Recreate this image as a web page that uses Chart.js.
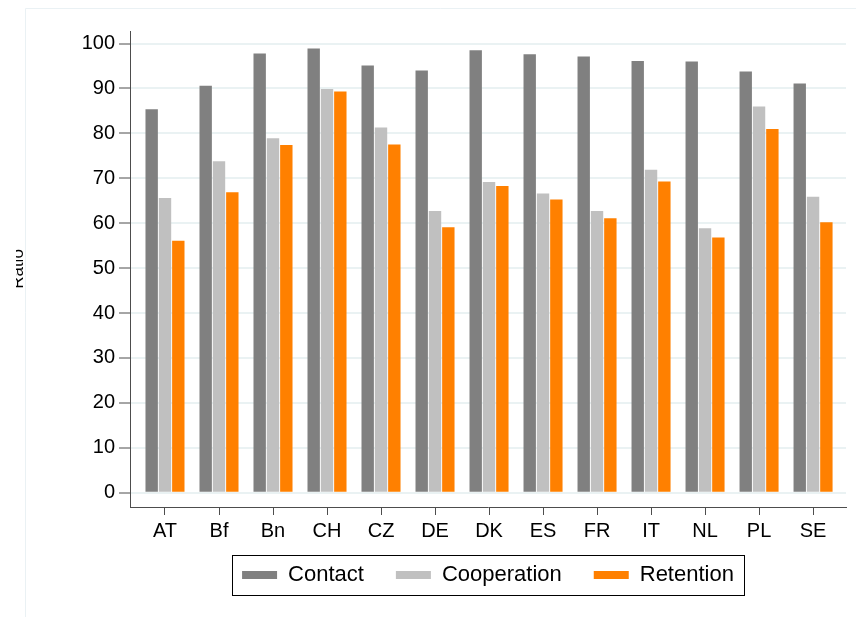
<!DOCTYPE html>
<html>
<head>
<meta charset="utf-8">
<script src="https://cdn.jsdelivr.net/npm/chart.js@4.4.0/dist/chart.umd.min.js"></script>
<style>
  html, body { margin: 0; padding: 0; background: #ffffff; }
  #wrap { width: 856px; height: 617px; position: relative; }
</style>
</head>
<body>
<div id="wrap"><canvas id="chart" width="856" height="617"></canvas></div>
<script>
// Survey rates by country (percent)
const categories = ['AT', 'Bf', 'Bn', 'CH', 'CZ', 'DE', 'DK', 'ES', 'FR', 'IT', 'NL', 'PL', 'SE'];
const contact     = [85.4, 90.6, 97.8, 98.9, 95.1, 94.0, 98.5, 97.6, 97.1, 96.1, 96.0, 93.8, 91.1];
const cooperation = [65.6, 73.8, 78.9, 89.9, 81.3, 62.7, 69.2, 66.6, 62.7, 71.9, 58.9, 86.0, 65.9];
const retention   = [56.1, 66.9, 77.4, 89.3, 77.5, 59.1, 68.3, 65.3, 61.1, 69.3, 56.8, 81.0, 60.2];
const yTicks = [0, 10, 20, 30, 40, 50, 60, 70, 80, 90, 100];
const yTitle = 'Ratio';

const FONT = 'Liberation Sans, Arial, sans-serif';
const AXIS = '#4d4d4d';
const GRID = '#eaf2f3';

const toPoints = arr => arr.map((v, i) => ({ x: i, y: v }));

// faint frame of the graph region
const framePlugin = {
  id: 'frame',
  beforeDraw(chart) {
    const ctx = chart.ctx;
    ctx.save();
    ctx.fillStyle = '#ffffff';
    ctx.fillRect(0, 0, chart.width, chart.height);
    ctx.strokeStyle = '#eaf1f4';
    ctx.lineWidth = 1;
    ctx.beginPath();
    ctx.moveTo(25.5, chart.height);
    ctx.lineTo(25.5, 8.5);
    ctx.lineTo(chart.width, 8.5);
    ctx.stroke();
    ctx.restore();
  }
};

// rotated y-axis title, clipped at the left margin
const yTitlePlugin = {
  id: 'yTitle',
  afterDraw(chart) {
    const ctx = chart.ctx;
    const a = chart.chartArea;
    ctx.save();
    ctx.beginPath();
    ctx.rect(16, 0, chart.width, chart.height);
    ctx.clip();
    ctx.translate(23, (a.top + a.bottom) / 2);
    ctx.rotate(-Math.PI / 2);
    ctx.font = '17px ' + FONT;
    ctx.fillStyle = '#000000';
    ctx.textAlign = 'center';
    ctx.textBaseline = 'alphabetic';
    ctx.fillText(yTitle, 0, 0);
    ctx.restore();
  }
};

// border box around the legend
const legendBoxPlugin = {
  id: 'legendBox',
  afterDraw(chart) {
    const lg = chart.legend;
    if (!lg || !lg.legendHitBoxes || !lg.legendHitBoxes.length) return;
    const hb = lg.legendHitBoxes;
    const left = Math.min(...hb.map(h => h.left)) - 10;
    const right = Math.max(...hb.map(h => h.left + h.width)) + 10;
    const cy = hb[0].top + hb[0].height / 2;
    const ctx = chart.ctx;
    ctx.save();
    ctx.strokeStyle = '#000000';
    ctx.lineWidth = 1;
    ctx.strokeRect(Math.round(left) + 0.5, Math.round(cy - 20) + 0.5, Math.round(right - left), 40);
    ctx.restore();
  }
};

new Chart(document.getElementById('chart'), {
  type: 'bar',
  data: {
    datasets: [
      { label: 'Contact', data: toPoints(contact), backgroundColor: '#808080' },
      { label: 'Cooperation', data: toPoints(cooperation), backgroundColor: '#c0c0c0' },
      { label: 'Retention', data: toPoints(retention), backgroundColor: '#ff8000' }
    ]
  },
  plugins: [framePlugin, yTitlePlugin, legendBoxPlugin],
  options: {
    responsive: false,
    animation: false,
    devicePixelRatio: 1,
    categoryPercentage: 0.74,
    barPercentage: 0.93,
    layout: { padding: { left: 0, right: 10, top: 31, bottom: 21 } },
    plugins: {
      tooltip: { enabled: false },
      legend: {
        position: 'bottom',
        fullSize: false,
        labels: {
          boxWidth: 35,
          boxHeight: 8,
          padding: 32,
          color: '#000000',
          font: { family: FONT, size: 22 }
        }
      }
    },
    scales: {
      x: {
        type: 'linear',
        offset: false,
        min: -0.648,
        max: 12.61,
        afterBuildTicks(scale) { scale.ticks = categories.map((c, i) => ({ value: i })); },
        afterFit(scale) {
          scale.height = 25;
          // let the country labels run past the slim axis box
          scale._computeLabelArea = () => undefined;
        },
        ticks: {
          callback: v => categories[v],
          color: '#000000',
          font: { family: FONT, size: 20 },
          padding: 4,
          maxRotation: 0,
          autoSkip: false
        },
        grid: { offset: false, drawOnChartArea: false, drawTicks: true, tickLength: 8, tickColor: AXIS, tickWidth: 1 },
        border: { display: true, color: AXIS, width: 1 }
      },
      y: {
        min: -3.2,
        max: 102.8,
        afterBuildTicks(scale) { scale.ticks = yTicks.map(v => ({ value: v })); },
        afterFit(scale) { scale.width = 130; },
        ticks: {
          color: '#000000',
          font: { family: FONT, size: 20 },
          padding: 4
        },
        grid: { color: GRID, lineWidth: 2, drawTicks: true, tickLength: 11, tickColor: AXIS, tickWidth: 1 },
        border: { display: true, color: AXIS, width: 1 }
      }
    }
  }
});
</script>
</body>
</html>
